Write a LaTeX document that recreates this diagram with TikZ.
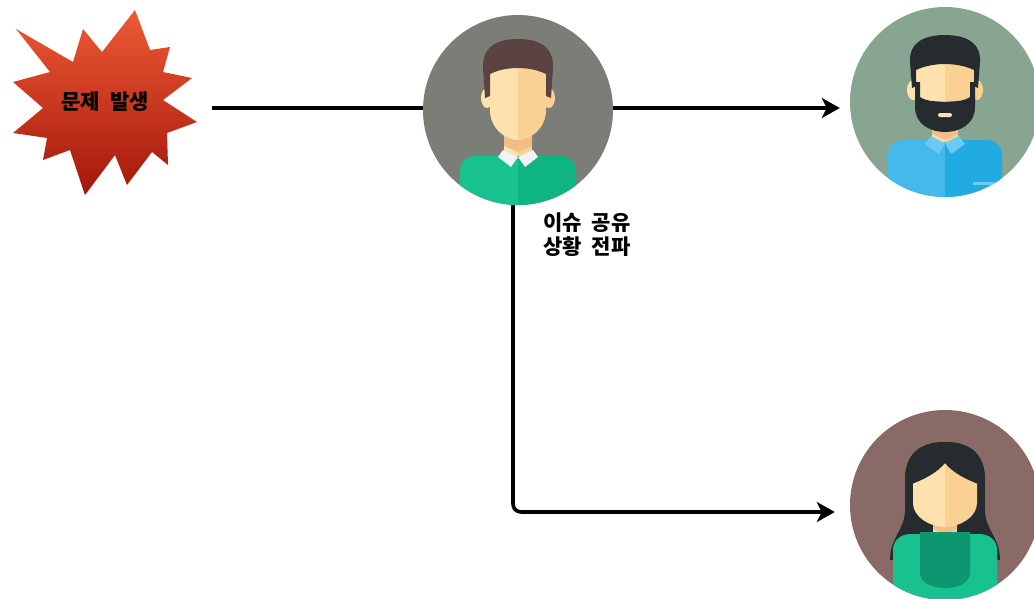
\documentclass[tikz,border=0pt]{standalone}
\usepackage{fontspec}
\newfontfamily\kofont{Noto Sans CJK KR}[WordSpace=2.1]
\usetikzlibrary{arrows.meta,positioning}

\definecolor{burstTop}{HTML}{EE5A35}
\definecolor{burstBot}{HTML}{A3170A}
\definecolor{bgGray}{HTML}{7B7E76}
\definecolor{bgSage}{HTML}{87A590}
\definecolor{bgMauve}{HTML}{8A6A66}
\definecolor{skin}{HTML}{FDE2AE}
\definecolor{skinDark}{HTML}{F9D192}
\definecolor{skinShade}{HTML}{F2BE86}
\definecolor{hairBrown}{HTML}{5A4340}
\definecolor{hairDark}{HTML}{262B30}
\definecolor{shirtGreen}{HTML}{17C28E}
\definecolor{shirtGreenDark}{HTML}{0FB483}
\definecolor{scarfGreen}{HTML}{0E9670}
\definecolor{shirtBlue}{HTML}{44B9EA}
\definecolor{shirtBlueDark}{HTML}{22AAE2}
\definecolor{collarBlue}{HTML}{6CCBF2}
\definecolor{collarWhite}{HTML}{F1F3F2}

\tikzset{
  avatar/.style={circle, minimum size=190pt, inner sep=0pt},
  link/.style={line width=3.6pt, black},
  arrow/.style={link, -{Stealth[length=18pt,width=20pt,inset=5pt]}},
  kotext/.style={font=\kofont\bfseries\fontsize{21}{24}\selectfont, inner sep=0pt}
}

\begin{document}
\begin{tikzpicture}[x=1pt,y=-1pt]
\useasboundingbox (0,0) rectangle (1034,598);

% Burst
\shade[top color=burstTop, bottom color=burstBot]
  (135,10) -- (150,50) -- (170,47) -- (163,72) -- (192,78) -- (163,100)
  -- (197,122) -- (167,133) -- (168,165) -- (152,152) -- (127,185)
  -- (115,155) -- (85,195) -- (70,150) -- (43,160) -- (47,138)
  -- (13,133) -- (43,108) -- (13,82) -- (50,72) -- (16,29)
  -- (73,62) -- (83,29) -- (102,52) -- cycle;
\node[kotext] (burst) at (105,102) {문제 발생};

% Avatars
\node[avatar, fill=bgGray] (lead) at (518,110) {};
\node[avatar, fill=bgSage] (dev) at (945,102) {};
\node[avatar, fill=bgMauve] (member) at (945,505) {};

% Lead
\begin{scope}[shift={(lead.center)}]
  \clip (0,0) circle (95);
  \fill[shirtGreen] (-58,130) -- (-58,62) .. controls (-58,52) and (-52,46) .. (-42,46) -- (0,46) -- (0,130) -- cycle;
  \fill[shirtGreenDark] (0,46) -- (42,46) .. controls (52,46) and (58,52) .. (58,62) -- (58,130) -- (0,130) -- cycle;
  \fill[skin] (-14,15) rectangle (0,46);
  \fill[skinDark] (0,15) rectangle (14,46);
  \fill[skinShade] (-14,26) -- (14,26) -- (14,36) -- (0,42) -- (-14,36) -- cycle;
  \fill[collarWhite] (-15,40) -- (0,47) -- (-7,57) -- (-20,47) -- cycle;
  \fill[collarWhite] (15,40) -- (0,47) -- (7,57) -- (20,47) -- cycle;
  \fill[skin] (-31,-12) ellipse (6 and 10);
  \fill[skinDark] (31,-12) ellipse (6 and 10);
  \fill[skin] (0,-48) -- (-28,-48) -- (-28,0) .. controls (-28,18) and (-13,30) .. (0,30) -- cycle;
  \fill[skinDark] (0,-48) -- (28,-48) -- (28,0) .. controls (28,18) and (13,30) .. (0,30) -- cycle;
  \fill[hairBrown] (-33,-12) -- (-35,-42) .. controls (-36,-64) and (-20,-71) .. (0,-71)
    .. controls (20,-71) and (36,-64) .. (35,-42) -- (33,-12) -- (28,-14) -- (28,-36)
    .. controls (12,-44) and (-12,-44) .. (-28,-36) -- (-28,-14) -- cycle;
\end{scope}

% Dev
\begin{scope}[shift={(dev.center)}]
  \clip (0,0) circle (95);
  \fill[shirtBlue] (-57,130) -- (-57,54) .. controls (-57,44) and (-51,38) .. (-41,38) -- (0,38) -- (0,130) -- cycle;
  \fill[shirtBlueDark] (0,38) -- (41,38) .. controls (51,38) and (57,44) .. (57,54) -- (57,130) -- (0,130) -- cycle;
  \fill[collarBlue] (28,80) rectangle (50,83);
  \fill[skin] (-13,12) rectangle (0,40);
  \fill[skinDark] (0,12) rectangle (13,40);
  \fill[skinShade] (-13,26) -- (13,26) -- (13,32) -- (0,38) -- (-13,32) -- cycle;
  \fill[collarBlue] (-14,34) -- (0,41) -- (-6,52) -- (-20,42) -- cycle;
  \fill[collarBlue] (14,34) -- (0,41) -- (6,52) -- (20,42) -- cycle;
  \fill[skin] (-32,-12) ellipse (6 and 10);
  \fill[skinDark] (32,-12) ellipse (6 and 10);
  \fill[skin] (0,-45) -- (-29,-45) -- (-29,0) .. controls (-29,18) and (-13,30) .. (0,30) -- cycle;
  \fill[skinDark] (0,-45) -- (29,-45) -- (29,0) .. controls (29,18) and (13,30) .. (0,30) -- cycle;
  \fill[hairDark] (-30,-20) -- (-30,5) .. controls (-30,22) and (-15,30) .. (0,30)
    .. controls (15,30) and (30,22) .. (30,5) -- (30,-20) -- (25,-20) -- (25,-5)
    .. controls (18,0) and (8,-1) .. (0,0) .. controls (-8,-1) and (-18,0) .. (-25,-5) -- (-25,-20) -- cycle;
  \fill[skin, rounded corners=2pt] (-7,11) rectangle (7,15);
  \fill[hairDark] (-33,-14) -- (-35,-40) .. controls (-36,-60) and (-20,-67) .. (0,-67)
    .. controls (20,-67) and (36,-60) .. (35,-40) -- (33,-14) -- (29,-16) -- (29,-32)
    .. controls (12,-40) and (-12,-40) .. (-29,-32) -- (-29,-16) -- cycle;
\end{scope}

% Member
\begin{scope}[shift={(member.center)}]
  \clip (0,0) circle (95);
  \fill[hairDark] (0,-63) .. controls (-28,-63) and (-40,-48) .. (-40,-25) -- (-40,5)
    .. controls (-40,25) and (-55,32) .. (-55,55) -- (55,55) .. controls (55,32) and (40,25) .. (40,5)
    -- (40,-25) .. controls (40,-48) and (28,-63) .. (0,-63) -- cycle;
  \fill[shirtGreen] (-52,130) -- (-52,45) .. controls (-52,35) and (-44,29) .. (-34,29) -- (34,29)
    .. controls (44,29) and (52,35) .. (52,45) -- (52,130) -- cycle;
  \fill[skin] (-12,8) rectangle (0,32);
  \fill[skinDark] (0,8) rectangle (12,32);
  \fill[skinShade] (-12,16) -- (12,16) -- (12,24) -- (0,30) -- (-12,24) -- cycle;
  \fill[scarfGreen] (-25,27) -- (25,27) -- (25,68) .. controls (25,88) and (-25,88) .. (-25,68) -- cycle;
  \fill[skin] (0,-46) -- (-32,-46) -- (-32,-2) .. controls (-32,12) and (-15,22) .. (0,22) -- cycle;
  \fill[skinDark] (0,-46) -- (32,-46) -- (32,-2) .. controls (32,12) and (15,22) .. (0,22) -- cycle;
  \fill[hairDark] (-40,-25) -- (-36,-20) .. controls (-22,-25) and (-8,-32) .. (0,-42)
    .. controls (8,-32) and (22,-25) .. (36,-20) -- (40,-25)
    .. controls (40,-48) and (28,-63) .. (0,-63) .. controls (-28,-63) and (-40,-48) .. (-40,-25) -- cycle;
\end{scope}

% Connection
\coordinate (burstout) at (212,108);
\draw[link] (burstout) -- (burstout -| lead.west);
% Connection
\draw[arrow] (burstout -| lead.east) -- ([xshift=-10pt]burstout -| dev.west);
% Connection
\draw[arrow, rounded corners=8pt] ([xshift=-5pt]lead.south) |- ([xshift=-15pt,yshift=-7pt]member.west);

% Text Node
\node[kotext, anchor=north west, align=left] (share) at ([xshift=25pt,yshift=-7pt]lead.south) {이슈 공유\\상황 전파};

\end{tikzpicture}
\end{document}
